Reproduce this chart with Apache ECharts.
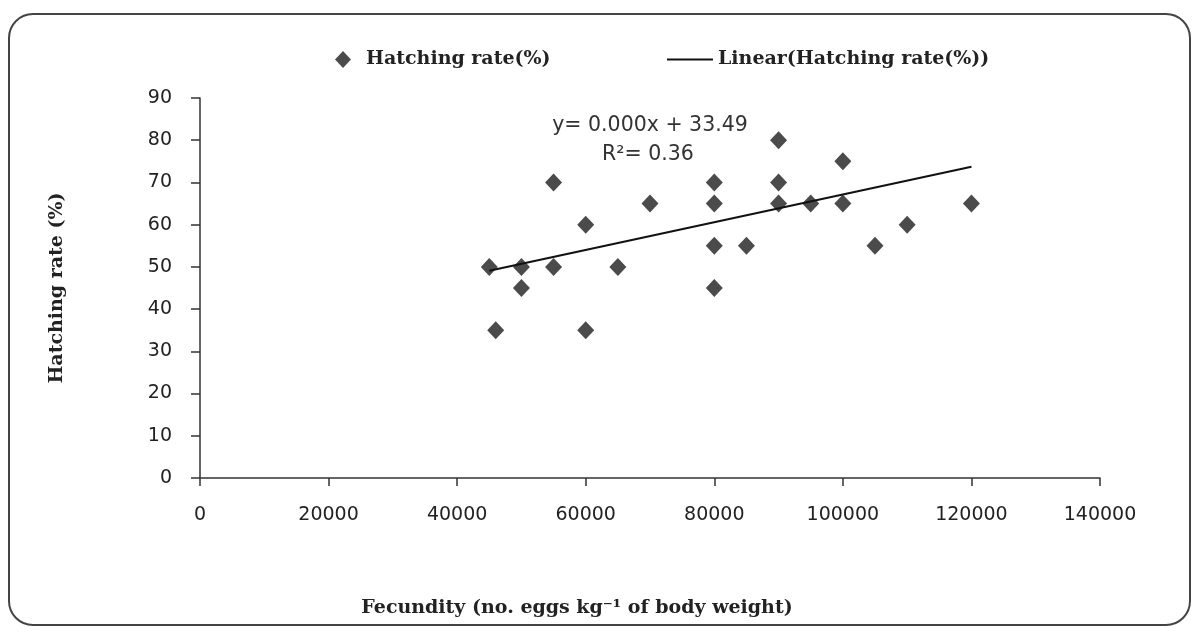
<!DOCTYPE html>
<html>
<head>
<meta charset="utf-8">
<script src="https://cdn.jsdelivr.net/npm/echarts@6/dist/echarts.min.js"></script>
<style>
  html, body { margin: 0; padding: 0; background: #fff; }
  #chart { width: 1198px; height: 632px; }
</style>
</head>
<body>
<div id="chart"></div>
<script>
// ---- Data ----
const fecundity = [45000, 46000, 50000, 50000, 55000, 55000, 60000, 60000, 65000, 70000,
  80000, 80000, 80000, 80000, 85000, 90000, 90000, 90000, 95000, 100000, 100000, 105000, 110000, 120000];
const hatchingRate = [50, 35, 50, 45, 70, 50, 60, 35, 50, 65,
  70, 65, 55, 45, 55, 80, 70, 65, 65, 75, 65, 55, 60, 65];
const trendX = [45000, 120000];
const trendY = [49.1, 73.7];
const xTicks = [0, 20000, 40000, 60000, 80000, 100000, 120000, 140000];
const yTicks = [0, 10, 20, 30, 40, 50, 60, 70, 80, 90];
const seriesName = 'Hatching rate(%)';
const trendName = 'Linear(Hatching rate(%))';
const equationText = 'y= 0.000x + 33.49';
const r2Text = 'R\u00B2= 0.36';
const xAxisTitle = 'Fecundity (no. eggs kg\u207B\u00B9 of body weight)';
const yAxisTitle = 'Hatching rate (%)';

const scatterData = fecundity.map((x, i) => [x, hatchingRate[i]]);
const trendData = trendX.map((x, i) => [x, trendY[i]]);

const boldFont = '"DejaVu Serif", serif';
const tickFont = '"DejaVu Sans", sans-serif';

const chart = echarts.init(document.getElementById('chart'));
chart.setOption({
  animation: false,
  backgroundColor: '#ffffff',
  grid: { left: 200, right: 98, top: 98, bottom: 154, containLabel: false },
  legend: [
    {
      data: [{ name: seriesName, icon: 'diamond' }],
      left: 330, top: 45,
      itemWidth: 16, itemHeight: 17,
      textStyle: { fontFamily: boldFont, fontWeight: 'bold', fontSize: 19, color: '#222', padding: [0, 0, 0, 10] },
      selectedMode: false
    },
    {
      data: [{ name: trendName, icon: 'rect' }],
      left: 662, top: 45,
      itemWidth: 46, itemHeight: 2,
      textStyle: { fontFamily: boldFont, fontWeight: 'bold', fontSize: 19, color: '#222' },
      selectedMode: false
    }
  ],
  xAxis: {
    type: 'value',
    min: xTicks[0], max: xTicks[xTicks.length - 1], interval: xTicks[1] - xTicks[0],
    splitLine: { show: false },
    axisLine: { onZero: false, lineStyle: { color: '#333', width: 1.5 } },
    axisTick: { show: true, length: 8, lineStyle: { color: '#333', width: 1.5 } },
    axisLabel: { margin: 28, color: '#222', fontFamily: tickFont, fontSize: 19, formatter: v => String(v) }
  },
  yAxis: {
    type: 'value',
    min: yTicks[0], max: yTicks[yTicks.length - 1], interval: yTicks[1] - yTicks[0],
    name: yAxisTitle,
    nameLocation: 'middle',
    nameGap: 133,
    nameRotate: 90,
    nameTextStyle: { fontFamily: boldFont, fontWeight: 'bold', fontSize: 19, color: '#222' },
    splitLine: { show: false },
    axisLine: { show: true, lineStyle: { color: '#333', width: 1.5 } },
    axisTick: { show: true, length: 9, lineStyle: { color: '#333', width: 1.5 } },
    axisLabel: { margin: 28, color: '#222', fontFamily: tickFont, fontSize: 19, formatter: v => String(v) }
  },
  series: [
    {
      name: seriesName,
      type: 'scatter',
      data: scatterData,
      symbol: 'diamond',
      symbolSize: [17, 18],
      itemStyle: { color: '#1e1e1e' },
      z: 3
    },
    {
      name: trendName,
      type: 'line',
      data: trendData,
      symbol: 'none',
      lineStyle: { color: '#111', width: 2 },
      itemStyle: { color: '#111' },
      z: 4
    }
  ],
  graphic: [
    {
      type: 'rect',
      shape: { x: 9, y: 14, width: 1181, height: 611, r: 24 },
      style: { fill: 'none', stroke: '#444', lineWidth: 2 },
      silent: true
    },
    {
      type: 'text',
      x: 650, y: 126,
      style: { text: equationText, fill: '#333', font: '20.5px "DejaVu Sans", sans-serif', textAlign: 'center', textVerticalAlign: 'middle' }
    },
    {
      type: 'text',
      x: 648, y: 155,
      style: { text: r2Text, fill: '#333', font: '20.5px "DejaVu Sans", sans-serif', textAlign: 'center', textVerticalAlign: 'middle' }
    },
    {
      type: 'text',
      x: 577, y: 608,
      style: { text: xAxisTitle, fill: '#222', font: 'bold 19px "DejaVu Serif", serif', textAlign: 'center', textVerticalAlign: 'middle' }
    }
  ]
});
</script>
</body>
</html>
